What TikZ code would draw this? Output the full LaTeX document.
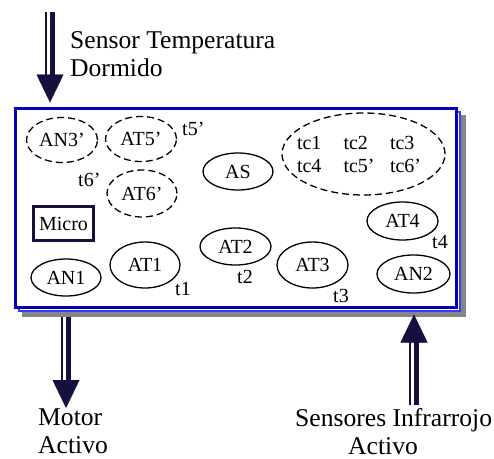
\documentclass[tikz,border=0pt]{standalone}
\usepackage{fontspec}
\setmainfont{Liberation Serif}
\usetikzlibrary{arrows.meta,shadows,shapes.geometric}
\definecolor{navy}{HTML}{15113F}
\definecolor{frameblue}{HTML}{0000B4}
\definecolor{frameedge}{HTML}{3A3AFF}
\definecolor{shade}{HTML}{858585}

\begin{document}
\begin{tikzpicture}[x=1pt, y=-1pt,
  big/.style={font=\fontsize{25.6}{28}\selectfont, inner sep=0pt, anchor=north west, align=left},
  small/.style={font=\fontsize{20}{23}\selectfont, inner sep=0pt},
  st/.style={small, ellipse, draw, line width=1.3pt, minimum width=70pt, minimum height=46pt},
  stlow/.style={st, minimum height=37pt},
  ghost/.style={st, dash pattern=on 7pt off 4pt},
  tlbl/.style={small, anchor=base west},
  panel/.style={rectangle, draw=frameblue, line width=3pt, fill=white,
    minimum width=441pt, minimum height=199pt,
    general shadow={fill=shade, draw=shade, line width=3pt, shadow xshift=8pt, shadow yshift=-8pt},
    general shadow={fill=white, draw=frameedge, line width=1.5pt, shadow xshift=3.5pt, shadow yshift=-3.5pt}},
  micro/.style={small, rectangle, draw=navy, line width=3pt, minimum width=60pt, minimum height=34pt},
  shaftthin/.style={draw=navy, line width=2pt, shorten >=27pt},
  shaftthick/.style={draw=navy, line width=5.5pt, shorten >=27pt},
  fathead/.style={draw=navy, fill=navy, line width=0.4pt, -{Triangle[length=28pt,width=27pt]}},
]
\useasboundingbox (0,0) rectangle (494,458);

% the robot board
\node[panel] (panel) at (236,208) {};

% states
\node[ghost, minimum width=71pt, minimum height=45pt] (an3) at (62,140) {AN3’};
\node[ghost, minimum width=71pt, minimum height=45pt] (at5) at (141,139) {AT5’};
\node[ghost, minimum height=47pt] (at6) at (142,193.5) {AT6’};
\node[micro] (micro) at (63.5,223.5) {Micro};
\node[stlow] (an1) at (66,277.5) {AN1};
\node[st] (at1) at (145,265) {AT1};
\node[stlow] (as) at (238,171.5) {AS};
\node[stlow, minimum width=71pt] (at2) at (235.5,246.5) {AT2};
\node[st, minimum width=71pt] (at3) at (312.5,265) {AT3};
\node[stlow, minimum width=71pt, minimum height=38pt] (at4) at (402.5,221) {AT4};
\node[stlow, minimum width=73pt, minimum height=38pt] (an2) at (413.5,274) {AN2};

% timer constants
\node[ghost, minimum width=163pt, minimum height=82pt] (tc) at (363.5,154) {};
\node[small, align=left, text width=133pt] (tcvals) at (tc)
  {\makebox[46.5pt][l]{tc1}\makebox[46.5pt][l]{tc2}tc3\\
   \makebox[46.5pt][l]{tc4}\makebox[46.5pt][l]{tc5’}tc6’};

% timers
\node[tlbl] (t5) at (182,135) {t5’};
\node[tlbl] (t6) at (78,186.5) {t6’};
\node[tlbl] (t1) at (175,295) {t1};
\node[tlbl] (t2) at (237,283) {t2};
\node[tlbl] (t3) at (333,302) {t3};
\node[tlbl] (t4) at (432,248) {t4};

% inputs and outputs
\node[big] (lblTemp) at (70,31) {Sensor Temperatura\\Dormido};
\node[big] (lblMotor) at (38,408.5) {Motor\\Activo};
\node[big] (lblIR) at (295,408) {Sensores Infrarrojo\\\hspace*{53pt}Activo};

\coordinate (inTemp) at (50,12);
\coordinate (inTempTip) at ([yshift=4.5pt]inTemp |- panel.north);
\coordinate (motorTip) at (66,408);
\coordinate (motorTail) at ([yshift=-7.5pt]motorTip |- panel.south);
\coordinate (irTail) at (414,405);
\coordinate (irTip) at ([yshift=-5.5pt]irTail |- panel.south);

\foreach \a/\b in {inTemp/inTempTip, motorTail/motorTip, irTail/irTip} {
  \draw[shaftthin] ([xshift=-4pt]\a) -- ([xshift=-4pt]\b);
  \draw[shaftthick] ([xshift=2.3pt]\a) -- ([xshift=2.3pt]\b);
  \draw[fathead] (\a) -- (\b);
}
\end{tikzpicture}
\end{document}
